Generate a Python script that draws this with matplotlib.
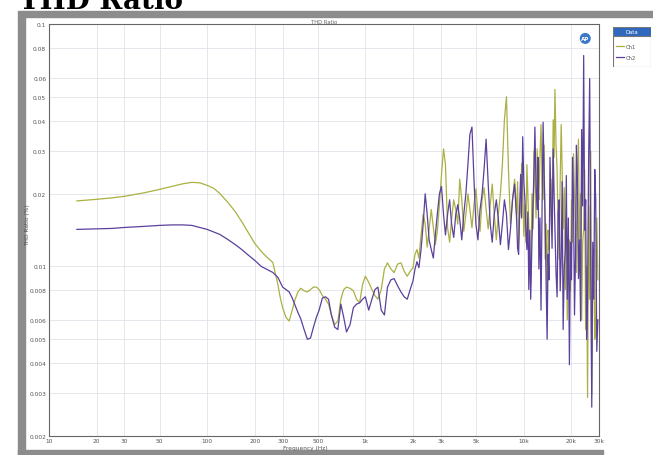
"""
THD ratio vs frequency, Ch1 / Ch2 (Audio Precision style sweep graph).
Writes out.png.
"""

import matplotlib.pyplot as plt
import numpy as np
from matplotlib.patches import Rectangle

# ---------------------------------------------------------------------------
# Data (THD ratio in dB, converted to % when plotted)
# ---------------------------------------------------------------------------

freq_low = [15, 20, 25, 30, 40, 50, 60, 70, 80, 90, 100, 110, 120, 135, 150,
            165, 180, 200, 220, 240, 260]
freq_mid = [280, 290, 300, 315, 330, 345, 360, 375, 390, 410, 430, 450, 470,
            490, 510, 535, 560, 585, 610, 640, 670, 700, 730, 760, 800, 840,
            880, 920, 960, 1000, 1050, 1100, 1150, 1200, 1260, 1320, 1380,
            1450, 1520, 1600, 1680, 1760, 1840, 1920, 2000]
freq_high = [2060, 2120, 2180, 2250, 2320, 2390, 2460, 2530, 2610, 2690,
             2770, 2850, 2940, 3030, 3120, 3210, 3310, 3410, 3510, 3620,
             3730, 3840, 3950, 4070, 4190, 4320, 4450, 4580, 4720, 4860,
             5000, 5150, 5310, 5470, 5630, 5800, 5980, 6160, 6340, 6530,
             6730, 6930, 7140, 7350, 7570, 7800, 8030, 8270, 8520, 8780]
freq_top = [9040, 9170, 9310, 9450, 9590, 9730, 9880, 10040, 10200, 10350,
            10500, 10650, 10800, 10950, 11100, 11300, 11500, 11650, 11800, 12000,
            12200, 12350, 12500, 12700, 12900, 13100, 13300, 13500, 13700, 13900,
            14100, 14300, 14500, 14700, 14900, 15150, 15400, 15600, 15800, 16050,
            16300, 16550, 16800, 17050, 17300, 17550, 17800, 18100, 18400, 18650,
            18900, 19200, 19500, 19800, 20100, 20400, 20700, 21000, 21300, 21600,
            21900, 22250, 22600, 22950, 23300, 23650, 24000, 24350, 24700, 25050,
            25400, 25800, 26200, 26600, 27000, 27400, 27800, 28200, 28600, 29050,
            29500]

ch1_low_db = [-74.59, -74.46, -74.34, -74.21, -73.92, -73.64, -73.39, -73.18,
              -73.06, -73.10, -73.31, -73.55, -73.97, -74.71, -75.45, -76.28,
              -77.11, -78.10, -78.76, -79.26, -79.67]
ch1_mid_db = [-81.5, -82.6, -83.4, -84.2, -84.5, -83.6, -82.7, -82.1, -81.8,
              -82.0, -82.1, -81.9, -81.7, -81.7, -81.9, -82.4, -82.7, -83.1,
              -84.0, -84.8, -84.5, -82.7, -81.9, -81.7, -81.8, -82.0, -82.7,
              -83.0, -81.5, -80.8, -81.3, -81.9, -82.4, -82.7, -81.9, -80.2,
              -79.7, -80.2, -80.5, -79.8, -79.7, -80.4, -80.8, -80.4, -80.1]
ch1_high_db = [-79.0, -78.6, -79.3, -77.4, -75.7, -76.5, -78.4, -76.9, -75.3, -76.8,
               -78.2, -77.1, -74.9, -72.4, -70.3, -71.6, -76.8, -78.0, -76.1, -74.5,
               -75.3, -76.5, -72.8, -74.5, -77.1, -75.7, -74.0, -75.3, -76.8, -74.9,
               -73.6, -75.7, -77.1, -74.5, -73.5, -75.3, -76.9, -74.9, -73.2, -75.7,
               -77.8, -75.7, -74.0, -71.6, -67.9, -66.0, -72.0, -76.5, -74.5, -72.8]
ch1_top_db = [-75.7, -73.0, -78.2, -76.0, -75.3, -71.5, -73.2, -77.5, -74.9, -78.0,
              -71.6, -74.0, -76.9, -79.5, -81.5, -74.0, -76.9, -70.5, -72.8, -76.0,
              -70.3, -73.5, -74.5, -71.0, -68.3, -73.0, -74.5, -70.0, -79.4, -76.5,
              -83.1, -77.0, -78.6, -75.5, -72.8, -76.0, -67.9, -71.0, -65.4, -70.0,
              -72.0, -77.0, -79.4, -73.0, -68.3, -72.0, -76.9, -73.5, -81.9, -77.0,
              -84.4, -79.0, -77.8, -82.0, -74.5, -78.0, -70.7, -74.0, -76.1, -80.5,
              -72.4, -69.5, -79.4, -74.0, -84.4, -78.0, -76.9, -72.0, -85.2, -80.0,
              -90.8, -75.0, -82.7, -70.5, -90.6, -80.0, -78.6, -86.0, -85.2, -76.0,
              -81.1]

ch2_low_db = [-76.94, -76.90, -76.86, -76.78, -76.69, -76.61, -76.57, -76.57,
              -76.61, -76.78, -76.94, -77.15, -77.35, -77.77, -78.18, -78.59,
              -79.01, -79.50, -80.00, -80.25, -80.49]
ch2_mid_db = [-80.9, -81.3, -81.7, -81.9, -82.1, -82.6, -83.2, -83.8, -84.3,
              -85.2, -86.0, -85.9, -85.0, -84.2, -83.6, -82.6, -82.5, -82.7,
              -84.0, -85.0, -85.2, -83.1, -84.2, -85.4, -84.8, -83.4, -83.1,
              -83.0, -82.7, -82.5, -83.6, -82.7, -81.9, -81.7, -83.6, -84.0,
              -81.7, -81.1, -81.0, -81.6, -82.1, -82.5, -82.7, -81.9, -81.2]
ch2_high_db = [-80.2, -79.6, -80.1, -78.6, -76.5, -74.0, -75.7, -77.8, -78.6, -79.3,
               -77.4, -75.7, -74.0, -73.4, -75.7, -77.4, -75.7, -74.5, -76.5, -77.6,
               -75.7, -74.9, -76.1, -77.8, -75.7, -74.0, -71.6, -69.1, -68.5, -72.8,
               -76.5, -77.8, -75.3, -74.0, -72.0, -69.5, -73.2, -76.5, -78.0, -75.7,
               -74.5, -76.1, -78.2, -76.5, -74.5, -75.7, -78.6, -76.9, -74.5, -73.2]
ch2_top_db = [-76.1, -78.5, -79.0, -75.0, -72.4, -76.0, -69.3, -73.0, -74.5, -77.0,
              -78.6, -75.5, -81.9, -77.0, -82.7, -78.0, -74.5, -72.0, -68.5, -73.5,
              -75.3, -71.0, -80.2, -76.0, -83.6, -75.0, -68.1, -72.5, -76.1, -81.5,
              -86.0, -79.0, -81.1, -71.0, -74.5, -78.5, -70.3, -74.0, -76.9, -80.5,
              -82.5, -75.5, -74.5, -82.0, -79.4, -73.0, -85.2, -80.0, -78.6, -72.5,
              -82.7, -76.0, -88.1, -78.0, -81.1, -71.0, -74.5, -84.0, -79.4, -70.0,
              -72.8, -81.0, -77.8, -84.5, -68.7, -75.0, -62.6, -77.0, -74.5, -86.0,
              -82.7, -71.0, -64.5, -80.0, -91.6, -78.0, -82.7, -72.0, -74.5, -87.0,
              -84.4]

y_ticks = [0.1, 0.08, 0.06, 0.05, 0.04, 0.03, 0.02, 0.01,
           0.008, 0.006, 0.005, 0.004, 0.003, 0.002]
y_tick_labels = ["0.1", "0.08", "0.06", "0.05", "0.04", "0.03", "0.02", "0.01",
                 "0.008", "0.006", "0.005", "0.004", "0.003", "0.002"]
x_ticks = [10, 20, 30, 50, 100, 200, 300, 500, 1000, 2000, 3000, 5000,
           10000, 20000, 30000]
x_tick_labels = ["10", "20", "30", "50", "100", "200", "300", "500", "1k",
                 "2k", "3k", "5k", "10k", "20k", "30k"]

CH1_COLOR = "#abb043"
CH2_COLOR = "#5b409c"
W, H = 653, 456


def db_to_pct(db):
    return 100 * 10 ** (np.asarray(db) / 20)


def fx(px):
    return px / W


def fy(py):
    return 1 - py / H


freq = np.array(freq_low + freq_mid + freq_high + freq_top)
ch1 = db_to_pct(ch1_low_db + ch1_mid_db + ch1_high_db + ch1_top_db)
ch2 = db_to_pct(ch2_low_db + ch2_mid_db + ch2_high_db + ch2_top_db)

fig = plt.figure(figsize=(W / 100, H / 100), dpi=100)
fig.patch.set_facecolor("white")

# gray window frame of the scanned graph
frame = "#8c8c8c"
fig.patches.append(Rectangle((fx(18), fy(18)), fx(W - 18), 6 / H,
                             transform=fig.transFigure, color=frame, zorder=0))
fig.patches.append(Rectangle((fx(18), fy(456)), 7 / W, 438 / H,
                             transform=fig.transFigure, color=frame, zorder=0))
fig.patches.append(Rectangle((fx(18), fy(456)), 585 / W, 5 / H,
                             transform=fig.transFigure, color=frame, zorder=0))

# big magazine heading, cut by the top edge
fig.text(fx(19), fy(9), "THD Ratio", fontsize=20, fontweight="bold",
         family="DejaVu Serif", color="black", va="baseline", ha="left")

ax = fig.add_axes([fx(49), fy(437), (599 - 49) / W, (437 - 25) / H])
ax.plot(freq, ch1, color=CH1_COLOR, lw=0.9)
ax.plot(freq, ch2, color=CH2_COLOR, lw=0.9)

ax.set_xscale("log")
ax.set_yscale("log")
ax.set_xlim(10, 30000)
ax.set_ylim(0.002, 0.1)
ax.set_xticks(x_ticks)
ax.set_xticklabels(x_tick_labels)
ax.set_yticks(y_ticks)
ax.set_yticklabels(y_tick_labels)
ax.minorticks_off()
ax.tick_params(labelsize=4.2, colors="#555555", length=0, pad=2)
ax.tick_params(axis="x", pad=1.5)
ax.grid(True, color="#dfe4ea", lw=0.6)
for s in ax.spines.values():
    s.set_color("#666666")
    s.set_linewidth(0.8)

ax.set_title("THD Ratio", fontsize=3.8, color="#666666", pad=1)
fig.text(fx(28), fy(225), "THD Ratio (%)", rotation=90, fontsize=4.2,
         color="#555555", ha="center", va="center")
fig.text(fx(305), fy(448.5), "Frequency (Hz)", fontsize=4.2, color="#555555",
         ha="center", va="center")

# AP logo
ax.text(0.975, 0.965, "AP", transform=ax.transAxes, fontsize=4, color="white",
        fontweight="bold", ha="center", va="center",
        bbox=dict(boxstyle="circle,pad=0.25", fc="#3a78c8", ec="none"))

# legend box
lg = fig.add_axes([fx(613), fy(68), 38 / W, 40 / H])
lg.set_xlim(0, 1)
lg.set_ylim(0, 1)
lg.axis("off")
lg.add_patch(Rectangle((0, 0), 1, 1, fc="white", ec="#777777", lw=0.8))
lg.add_patch(Rectangle((0, 0.77), 1, 0.23, fc="#2f68bd", ec="#777777", lw=0.8))
lg.text(0.5, 0.885, "Data", fontsize=3.8, color="white", ha="center", va="center")
lg.plot([0.08, 0.28], [0.52, 0.52], color=CH1_COLOR, lw=0.9)
lg.text(0.34, 0.52, "Ch1", fontsize=3.8, color="#555555", va="center")
lg.plot([0.08, 0.28], [0.25, 0.25], color=CH2_COLOR, lw=0.9)
lg.text(0.34, 0.25, "Ch2", fontsize=3.8, color="#555555", va="center")

fig.savefig("out.png", dpi=100)
